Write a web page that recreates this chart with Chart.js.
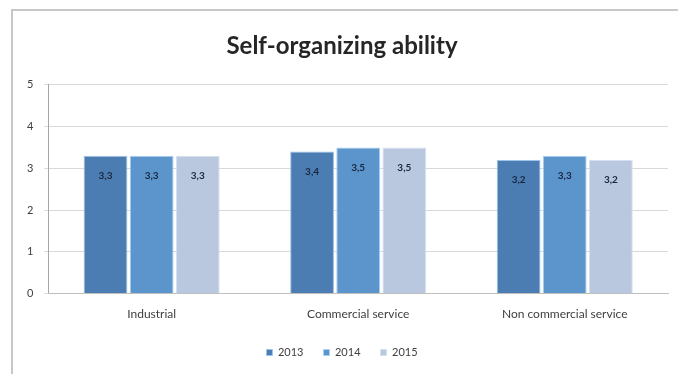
<!DOCTYPE html>
<html>
<head>
<meta charset="utf-8">
<script src="https://cdn.jsdelivr.net/npm/chart.js@4/dist/chart.umd.min.js"></script>
<style>
  html, body { margin: 0; padding: 0; background: #fff; }
  #wrap { position: relative; width: 678px; height: 374px; }
  #frame {
    position: absolute; left: 11px; top: 9px; right: -4px; bottom: -4px;
    border-left: 2px solid #c8c8c8; border-top: 2px solid #c8c8c8;
  }
  canvas { position: absolute; left: 0; top: 0; }
</style>
</head>
<body>
<div id="wrap">
  <div id="frame"></div>
  <canvas id="ability_chart" width="678" height="374"></canvas>
</div>
<script>
const categories = ["Industrial", "Commercial service", "Non commercial service"];
const years = ["2013", "2014", "2015"];
const values2013 = [3.3, 3.4, 3.2];
const values2014 = [3.3, 3.5, 3.3];
const values2015 = [3.3, 3.5, 3.2];
const yTicks = [0, 1, 2, 3, 4, 5];

const fills = ["#4c7db2", "#5c94cc", "#b9c7df"];
const edges = ["#9fc3e8", "#a9cff2", "#d6e0f0"];
const font = "Lato, 'DejaVu Sans', sans-serif";

// value labels sit inside each bar, just under the top
const barLabels = {
  id: "barLabels",
  afterDatasetsDraw(chart) {
    const ctx = chart.ctx;
    ctx.save();
    ctx.font = "bold 10px " + font;
    ctx.fillStyle = "#1a2740";
    ctx.textAlign = "center";
    ctx.textBaseline = "middle";
    chart.data.datasets.forEach((ds, i) => {
      chart.getDatasetMeta(i).data.forEach((bar, j) => {
        const txt = ds.data[j].toFixed(1).replace(".", ",");
        ctx.fillText(txt, bar.x, bar.y + 20);
      });
    });
    ctx.restore();
  },
};

const series = [values2013, values2014, values2015];

const data = {
  labels: categories,
  datasets: years.map((y, i) => ({
    label: y,
    data: series[i],
    backgroundColor: fills[i],
    borderColor: edges[i],
    borderWidth: 1,
    categoryPercentage: 0.67,
    barPercentage: 0.95,
  })),
};

new Chart(document.getElementById("ability_chart"), {
  type: "bar",
  data: data,
  plugins: [barLabels],
  options: {
    responsive: false,
    animation: false,
    layout: { padding: { left: 16, right: 10, top: 32, bottom: 6 } },
    scales: {
      y: {
        min: 0,
        max: 5,
        afterBuildTicks: (axis) => {
          axis.ticks = yTicks.map((v) => ({ value: v }));
        },
        ticks: {
          color: "#404040",
          font: { size: 11, family: font },
          padding: 11,
        },
        grid: { color: "#d9d9d9", tickLength: 4 },
        border: { color: "#a6a6a6" },
      },
      x: {
        afterFit: (axis) => {
          axis.height += 1;
        },
        ticks: {
          color: "#404040",
          font: { size: 12, family: font },
          padding: 5,
        },
        grid: { display: false },
        border: { color: "#bfbfbf" },
      },
    },
    plugins: {
      title: {
        display: true,
        text: "Self-organizing ability",
        color: "#262626",
        font: { size: 24, weight: "bold", family: "Lato, 'Open Sans', sans-serif" },
        padding: { top: 0, bottom: 24 },
      },
      legend: {
        position: "bottom",
        labels: {
          color: "#404040",
          font: { size: 11, family: font },
          boxWidth: 6,
          boxHeight: 6,
          padding: 20,
        },
      },
      tooltip: { enabled: false },
    },
  },
});
</script>
</body>
</html>
